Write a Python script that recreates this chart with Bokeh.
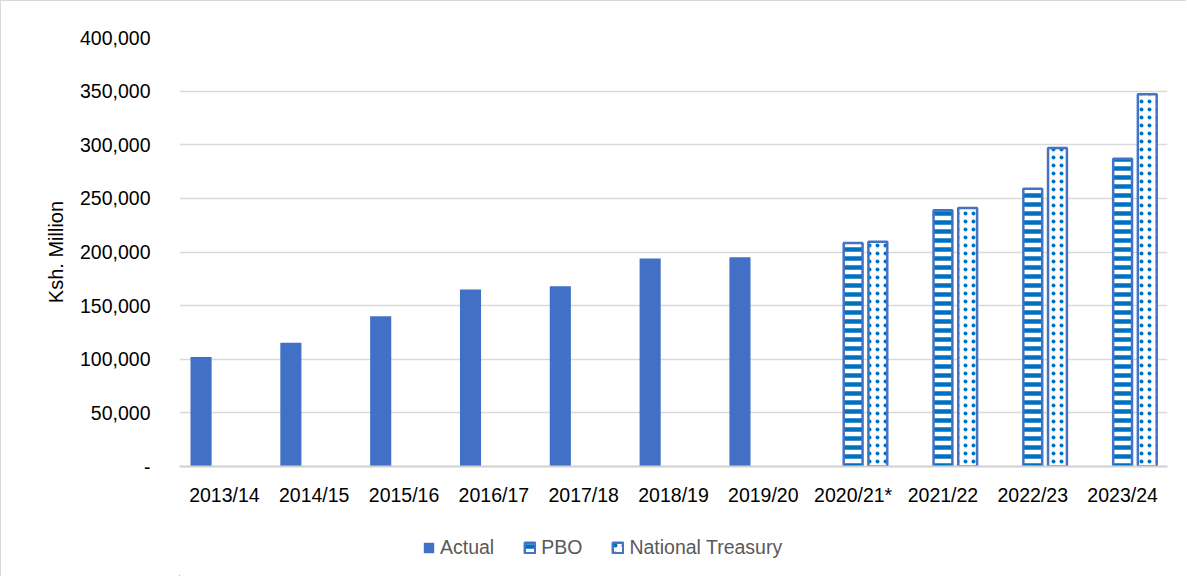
from bokeh.plotting import figure
from bokeh.layouts import column
from bokeh.models import (FactorRange, Range1d, FixedTicker, Legend, LegendItem,
                          ColumnDataSource, NumeralTickFormatter)
from bokeh.transform import dodge
from bokeh.embed import file_html
from bokeh.resources import INLINE

categories = ["2013/14", "2014/15", "2015/16", "2016/17", "2017/18", "2018/19",
              "2019/20", "2020/21*", "2021/22", "2022/23", "2023/24"]
actual_years = ["2013/14", "2014/15", "2015/16", "2016/17", "2017/18", "2018/19", "2019/20"]
actual_values = [102000, 115500, 140000, 165000, 168000, 194000, 195000]
forecast_years = ["2020/21*", "2021/22", "2022/23", "2023/24"]
pbo_values = [208500, 239000, 259000, 287000]
treasury_values = [209500, 241000, 297000, 347000]
y_ticks = [0, 50000, 100000, 150000, 200000, 250000, 300000, 350000, 400000]

FONT = "Liberation Sans"
ACTUAL = dict(fill_color="#4270C6", line_color=None)
PBO = dict(fill_color="white", line_color="#4472C4", line_width=2.5,
           hatch_pattern="horizontal_line", hatch_color="#0070C0",
           hatch_weight=4.5, hatch_scale=9)
NT = dict(fill_color="white", line_color="#4472C4", line_width=2.5,
          hatch_pattern="dot", hatch_color="#0070C0",
          hatch_weight=2, hatch_scale=8)

p = figure(x_range=FactorRange(*categories, range_padding=0),
           y_range=Range1d(0, 400000),
           width=1185, height=520,
           min_border_left=178, min_border_right=19,
           min_border_top=36, min_border_bottom=55,
           output_backend="svg", toolbar_location=None)
p.outline_line_color = None
p.background_fill_color = "white"
p.border_fill_color = "white"

src_a = ColumnDataSource(dict(x=actual_years, y=actual_values))
src_f = ColumnDataSource(dict(x=forecast_years, pbo=pbo_values, nt=treasury_values))

p.vbar(x=dodge("x", -0.26, range=p.x_range), top="y", width=0.235, source=src_a, **ACTUAL)
p.vbar(x=dodge("x", 0.0, range=p.x_range), top="pbo", width=0.21, source=src_f, **PBO)
p.vbar(x=dodge("x", 0.275, range=p.x_range), top="nt", width=0.21, source=src_f, **NT)

p.yaxis.ticker = FixedTicker(ticks=y_ticks)
p.yaxis.formatter = NumeralTickFormatter(format="0,0")
p.yaxis.major_label_overrides = {0: "-"}
p.yaxis.axis_line_color = None
p.yaxis.major_tick_line_color = None
p.yaxis.major_tick_out = 0
p.yaxis.major_tick_in = 0
p.yaxis.minor_tick_line_color = None
p.yaxis.major_label_standoff = 29
p.yaxis.major_label_text_font = FONT
p.yaxis.major_label_text_font_size = "19.5px"
p.yaxis.major_label_text_color = "black"
p.yaxis.axis_label = "Ksh. Million"
p.yaxis.axis_label_text_font = FONT
p.yaxis.axis_label_text_font_size = "20px"
p.yaxis.axis_label_text_font_style = "normal"
p.yaxis.axis_label_text_color = "black"
p.yaxis.axis_label_standoff = 10

p.xaxis.axis_line_color = "#D0D0D0"
p.xaxis.axis_line_width = 2
p.xaxis.major_tick_line_color = None
p.xaxis.major_tick_out = 0
p.xaxis.major_tick_in = 0
p.xaxis.minor_tick_line_color = None
p.xaxis.major_label_standoff = 17
p.xaxis.major_label_text_font = FONT
p.xaxis.major_label_text_font_size = "19.5px"
p.xaxis.major_label_text_color = "black"

p.xgrid.visible = False
p.ygrid.grid_line_color = "#D9D9D9"
p.ygrid.grid_line_width = 1.5

# legend strip below the chart (its frame is aligned with the chart's frame)
lf = figure(width=1185, height=55, x_axis_type=None, y_axis_type=None,
            x_range=Range1d(0, 1), y_range=Range1d(0, 1),
            min_border=0, output_backend="svg", toolbar_location=None)
lf.outline_line_color = None
lf.grid.visible = False
swatch = ColumnDataSource(dict(x=[-5], top=[-5]))
la = lf.vbar(x="x", top="top", bottom=-6, width=0, source=swatch, **ACTUAL)
lp = lf.vbar(x="x", top="top", bottom=-6, width=0, source=swatch, **PBO)
ln = lf.vbar(x="x", top="top", bottom=-6, width=0, source=swatch, **NT)

legend = Legend(items=[LegendItem(label="Actual", renderers=[la]),
                       LegendItem(label="PBO", renderers=[lp]),
                       LegendItem(label="National Treasury", renderers=[ln])],
                orientation="horizontal", location=(243, 17),
                border_line_color=None, background_fill_alpha=0,
                padding=0, margin=0, spacing=29, label_standoff=5,
                glyph_width=13, glyph_height=13,
                label_text_font=FONT, label_text_font_size="19.5px",
                label_text_color="#595959")
lf.add_layout(legend)

layout = column(p, lf, spacing=0)
layout.styles = {"border-top": "1px solid #D9D9D9", "border-left": "1px solid #D9D9D9"}

open("out.html", "w").write(file_html(layout, INLINE))
